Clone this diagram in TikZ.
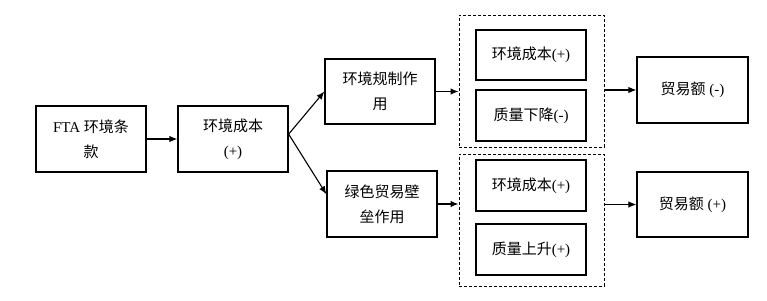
\documentclass[tikz,border=0pt]{standalone}
\usepackage{fontspec}
\setmainfont{Liberation Serif}
\newfontfamily\cjk{Noto Sans CJK SC}
\usetikzlibrary{arrows.meta}

\begin{document}
\begin{tikzpicture}[x=1pt, y=-1pt,
    box/.style={draw, line width=1.3pt, minimum width=110pt, align=center,
        inner sep=0pt, font=\fontsize{15}{25}\selectfont},
    dashbox/.style={draw, dash pattern=on 3pt off 2pt, line width=1pt,
        minimum width=145pt, minimum height=132pt, inner sep=0pt},
    link/.style={line width=1.1pt, -{Latex[length=8pt, width=6.5pt]}}]
    \useasboundingbox (0,0) rectangle (767,300);

    % Left part
    \node[box, minimum height=66pt] (fta) at (91,139) {FTA {\cjk 环境条}\\{\cjk 款}};
    \node[box, minimum height=66pt] (cost) at (233,139) {{\cjk 环境成本}\\(+)};
    \node[box, minimum height=65pt] (reg) at (380,91.5) {{\cjk 环境规制作}\\{\cjk 用}};
    \node[box, minimum height=66pt] (green) at (382,204) {{\cjk 绿色贸易壁}\\{\cjk 垒作用}};

    % Dashed groups
    \node[dashbox] (grpA) at (531.5,81) {};
    \node[box, minimum height=50pt] (costA) at (531,55) {{\cjk 环境成本}(+)};
    \node[box, minimum height=51pt] (qualA) at (531,115.5) {{\cjk 质量下降}(-)};

    \node[dashbox] (grpB) at (531.5,220) {};
    \node[box, minimum height=51pt] (costB) at (531,185.5) {{\cjk 环境成本}(+)};
    \node[box, minimum height=51pt] (qualB) at (531,249.5) {{\cjk 质量上升}(+)};

    % Right part
    \node[box, minimum width=111pt, minimum height=66pt] (tradeA) at (692.5,90) {{\cjk 贸易额} (-)};
    \node[box, minimum width=111pt, minimum height=65pt] (tradeB) at (692.5,204.5) {{\cjk 贸易额} (+)};

    % Arrows
    \draw[link] (fta) -- (cost);
    \draw[link] (cost.5) -- (reg.west);
    \draw[link] (cost.5) -- (green.170);
    \draw[link] (reg.east) -- (reg.east -| grpA.west);
    \draw[link] (green.east) -- (green.east -| grpB.west);
    \draw[link] (grpA.east |- tradeA) -- (tradeA.west);
    \draw[link] (grpB.east |- tradeB) -- (tradeB.west);
\end{tikzpicture}
\end{document}
